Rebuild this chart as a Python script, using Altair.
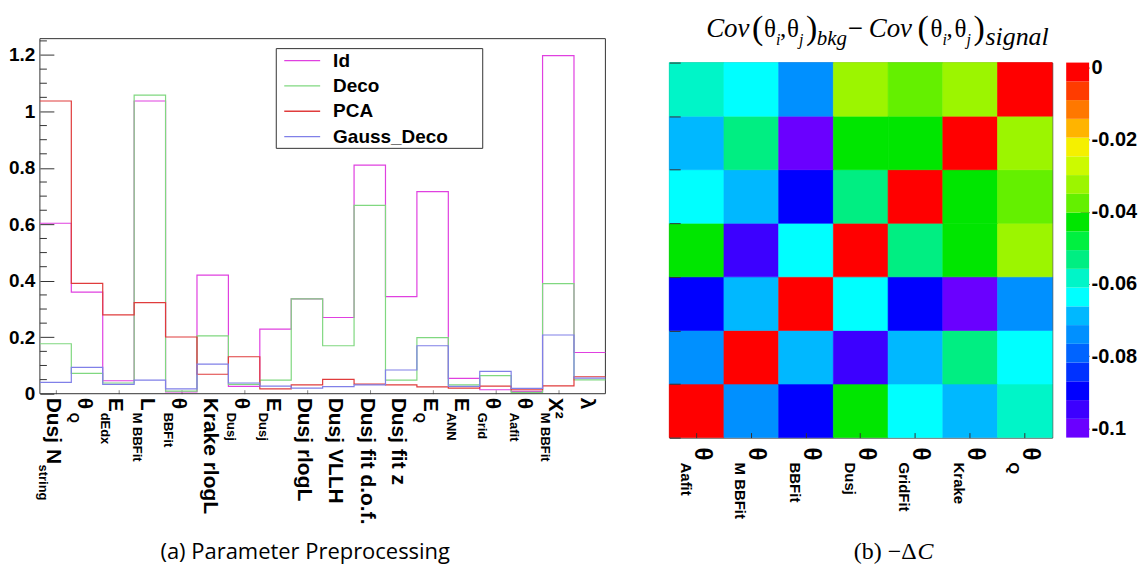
import altair as alt
import pandas as pd
import numpy as np

# ---------------- panel (a): parameter preprocessing ----------------
hist_main = ["Dusj N", "θ", "E", "L", "θ", "Krake rlogL", "θ", "E", "Dusj rlogL",
             "Dusj VLLH", "Dusj fit d.o.f.", "Dusj fit z", "E", "E", "θ", "θ", "X²", "λ"]
hist_sub = ["string", "Q", "dEdx", "M BBFit", "BBFit", "", "Dusj", "Dusj", "",
            "", "", "", "Q", "ANN", "Grid", "Aafit", "M BBFit", ""]

series_names = ["Id", "Deco", "PCA", "Gauss_Deco"]
series_colors = ["#E040E0", "#80D880", "#E03C3C", "#8080E8"]

id_vals = [0.604, 0.360, 0.046, 1.037, 0.006, 0.420, 0.026, 0.229, 0.336,
           0.270, 0.810, 0.344, 0.716, 0.054, 0.014, 0.008, 1.198, 0.146]
deco_vals = [0.177, 0.072, 0.038, 1.058, 0.009, 0.205, 0.033, 0.048, 0.336,
             0.170, 0.667, 0.048, 0.199, 0.031, 0.064, 0.005, 0.390, 0.049]
pca_vals = [1.037, 0.391, 0.279, 0.323, 0.201, 0.069, 0.131, 0.017, 0.031,
            0.051, 0.034, 0.031, 0.024, 0.020, 0.027, 0.014, 0.028, 0.060]
gauss_vals = [0.040, 0.093, 0.033, 0.048, 0.017, 0.105, 0.038, 0.027, 0.020,
              0.025, 0.031, 0.084, 0.170, 0.026, 0.079, 0.019, 0.208, 0.055]

# ---------------- panel (b): covariance difference ----------------
cov_vars = ["Aafit", "M BBFit", "BBFit", "Dusj", "GridFit", "Krake", "Q"]
cov_rows = [
    [0.000, -0.074, -0.090, -0.043, -0.064, -0.069, -0.058],
    [-0.074, 0.000, -0.069, -0.095, -0.069, -0.053, -0.064],
    [-0.090, -0.069, 0.000, -0.064, -0.090, -0.099, -0.074],
    [-0.043, -0.095, -0.064, 0.000, -0.053, -0.043, -0.032],
    [-0.064, -0.069, -0.090, -0.053, 0.000, -0.043, -0.038],
    [-0.069, -0.053, -0.099, -0.043, -0.043, 0.000, -0.032],
    [-0.058, -0.064, -0.074, -0.032, -0.038, -0.032, 0.000],
]
ZMIN, ZMAX = -0.1026, 0.0014
cbar_ticks = [0, -0.02, -0.04, -0.06, -0.08, -0.1]
# 20-level rainbow palette, low -> high
palette = ["#6A00FF", "#3C00FF", "#0000FF", "#0032FF", "#0064FF", "#0090FF",
           "#00B8FF", "#00FFFF", "#00F5C8", "#00EE82", "#00F040", "#00E600",
           "#64F000", "#9CF500", "#CCFA00", "#F5F000", "#FFB400", "#FF7800",
           "#FF3C00", "#FF0000"]

SANS = "Liberation Sans"
SERIF = "Liberation Serif"
FRAME = "#333333"

dummy = pd.DataFrame({"d": [0]})


def spacer(x, y):
    return alt.Chart(dummy).mark_rule(color="white", strokeWidth=1).encode(
        x=alt.value(x), x2=alt.value(x + 1), y=alt.value(y))


def piece(txt, x, y, size, style="normal", font=SERIF, align="left", weight="normal"):
    return alt.Chart(dummy).mark_text(
        align=align, baseline="alphabetic", font=font, fontSize=size,
        fontStyle=style, fontWeight=weight, color="black"
    ).encode(x=alt.value(x), y=alt.value(y), text=alt.value(txt))


# ---------------- build panel (a) ----------------
# The panel's frame starts UP pixels above the shared row origin of the two panels.
WA, HA, UP = 567, 332, 24
NB = len(hist_main)
rows = []
for name, vals in zip(series_names, [id_vals, deco_vals, pca_vals, gauss_vals]):
    for k, v in enumerate(vals):
        rows.append({"series": name, "edge": k, "value": v})
    rows.append({"series": name, "edge": len(vals), "value": vals[-1]})
hist_df = pd.DataFrame(rows)

xs = alt.Scale(domain=[0, NB], nice=False, zero=False)
ys = alt.Scale(domain=[0, 1.258], range=[HA, -UP], nice=False, zero=False)

frame_a = alt.Chart(dummy).mark_rect(fill="transparent", stroke=FRAME, strokeWidth=1).encode(
    x=alt.value(0), x2=alt.value(WA), y=alt.value(-UP), y2=alt.value(HA))

lines = alt.Chart(hist_df).mark_line(interpolate="step-after", strokeWidth=1.2).encode(
    x=alt.X("edge:Q", scale=xs,
            axis=alt.Axis(values=[k + 0.5 for k in range(NB)], labels=False, domain=False,
                          grid=False, tickSize=4, offset=-4, tickColor="#888", title=None)),
    y=alt.Y("value:Q", scale=ys,
            axis=alt.Axis(values=[0, 0.2, 0.4, 0.6, 0.8, 1.0, 1.2],
                          labelExpr="datum.value == 0 ? '0' : format(datum.value, '.1~f')",
                          labelFont=SANS, labelFontWeight="bold", labelFontSize=19,
                          labelColor="black", labelPadding=5, domain=False, grid=False,
                          tickSize=14, offset=-14, tickColor=FRAME, title=None)),
    color=alt.Color("series:N", scale=alt.Scale(domain=series_names, range=series_colors),
                    legend=None),
)

minor_vals = [round(v, 2) for v in np.arange(0.05, 1.26, 0.05)
              if abs(v / 0.2 - round(v / 0.2)) > 1e-6]
minor = alt.Chart(pd.DataFrame({"t": minor_vals})).mark_rule(color=FRAME, strokeWidth=1).encode(
    y=alt.Y("t:Q", scale=ys), x=alt.value(0), x2=alt.value(7))

lab_df = pd.DataFrame({"c": [k + 0.5 for k in range(NB)], "main": hist_main, "sub": hist_sub})
main_txt = alt.Chart(lab_df).mark_text(
    angle=90, align="left", baseline="middle", font=SANS, fontWeight="bold",
    fontSize=21, dy=3, color="black"
).encode(x=alt.X("c:Q", scale=xs), y=alt.value(HA + 4), text="main:N")

sub_short = alt.Chart(lab_df).transform_filter(
    "datum.sub != '' && length(datum.main) <= 2"
).mark_text(
    angle=90, align="left", baseline="middle", font=SANS, fontWeight="bold",
    fontSize=13, dx=15, dy=13, color="black"
).encode(x=alt.X("c:Q", scale=xs), y=alt.value(HA + 4), text="sub:N")

sub_long = alt.Chart(lab_df).transform_filter(
    "datum.sub != '' && length(datum.main) > 2"
).mark_text(
    angle=90, align="left", baseline="middle", font=SANS, fontWeight="bold",
    fontSize=13, dx=67, dy=13, color="black"
).encode(x=alt.X("c:Q", scale=xs), y=alt.value(HA + 4), text="sub:N")

LY = 10 - UP
legend_parts = [
    alt.Chart(dummy).mark_rect(fill="white", stroke=FRAME, strokeWidth=1).encode(
        x=alt.value(237), x2=alt.value(444), y=alt.value(LY), y2=alt.value(LY + 100))
]
for i, (n, c) in enumerate(zip(series_names, series_colors)):
    yy = LY + 12 + i * 25.4
    legend_parts.append(alt.Chart(dummy).mark_rule(color=c, strokeWidth=1.3).encode(
        x=alt.value(245), x2=alt.value(281), y=alt.value(yy)))
    legend_parts.append(alt.Chart(dummy).mark_text(
        align="left", baseline="middle", font=SANS, fontWeight="bold", fontSize=19,
        color="black").encode(x=alt.value(294), y=alt.value(yy), text=alt.value(n)))

title_a = alt.Chart(dummy).mark_text(
    align="center", baseline="middle", font="Open Sans", fontSize=22, color="black"
).encode(x=alt.value(266), y=alt.value(515 - UP),
         text=alt.value("(a) Parameter Preprocessing"))

hist = alt.layer(frame_a, lines, minor, main_txt, sub_short, sub_long, *legend_parts,
                 title_a, spacer(-39, 0)).properties(
    width=WA, height=HA, view=alt.ViewBackground(stroke="transparent"))

# ---------------- build panel (b) ----------------
WB, HB = 384, 376
heat_df = pd.DataFrame([{"row": cov_vars[i], "col": cov_vars[j], "v": cov_rows[i][j]}
                        for i in range(len(cov_vars)) for j in range(len(cov_vars))])
hx = alt.Scale(domain=cov_vars, paddingInner=0, paddingOuter=0)
hy = alt.Scale(domain=cov_vars[::-1], paddingInner=0, paddingOuter=0)
qscale = alt.Scale(type="quantize", domain=[ZMIN, ZMAX], range=palette)

cells = alt.Chart(heat_df).mark_rect(strokeWidth=0.6).encode(
    x=alt.X("col:N", scale=hx,
            axis=alt.Axis(labels=False, title=None, domain=False, tickSize=5, offset=-5,
                          tickColor=FRAME)),
    y=alt.Y("row:N", scale=hy,
            axis=alt.Axis(labels=False, title=None, domain=False, tickSize=11, offset=-11,
                          tickBand="extent", tickColor=FRAME)),
    color=alt.Color("v:Q", scale=qscale, legend=None),
    stroke=alt.Stroke("v:Q", scale=qscale, legend=None),
)

hlab_df = pd.DataFrame({"col": cov_vars, "sub": cov_vars})
heat_main = alt.Chart(hlab_df).mark_text(
    angle=90, align="left", baseline="middle", font=SANS, fontWeight="bold",
    fontSize=24, dy=-5, color="black"
).encode(x=alt.X("col:N", scale=hx), y=alt.value(HB + 10), text=alt.value("θ"))
heat_sub = alt.Chart(hlab_df).mark_text(
    angle=90, align="left", baseline="middle", font=SANS, fontWeight="bold",
    fontSize=15, dx=15, dy=11, color="black"
).encode(x=alt.X("col:N", scale=hx), y=alt.value(HB + 10), text="sub:N")

TB = -26  # title baseline (relative to plot top)
TS = -18  # subscript baseline
title_b = [
    piece("Cov", 37, TB, 27, "italic"),
    piece("(", 83, TB + 2, 34),
    piece("θ", 95, TB, 25),
    piece("i", 107, TS, 16, "italic"),
    piece(",", 111, TB, 25),
    piece("θ", 118, TB, 25),
    piece("j", 130, TS, 16, "italic"),
    piece(")", 137, TB + 2, 34),
    piece("bkg", 148, TS, 21, "italic"),
    piece("−", 179, TB, 27),
    piece("Cov", 200, TB, 27, "italic"),
    piece("(", 249, TB + 2, 34),
    piece("θ", 262, TB, 25),
    piece("i", 274, TS, 16, "italic"),
    piece(",", 278, TB, 25),
    piece("θ", 286, TB, 25),
    piece("j", 298, TS, 16, "italic"),
    piece(")", 305, TB + 2, 34),
    piece("signal", 317, TS, 26, "italic"),
    piece("(b) −Δ", 248, 498, 24, align="right"),
    piece("C", 249, 498, 24, "italic"),
]

heat = alt.layer(cells, heat_main, heat_sub, *title_b, spacer(0, -61)).properties(
    width=WB, height=HB)

# colour bar
wband = (ZMAX - ZMIN) / len(palette)
cbar_df = pd.DataFrame([{"lo": ZMIN + i * wband, "hi": ZMIN + (i + 1) * wband, "c": palette[i]}
                        for i in range(len(palette))])
cbar = alt.layer(
    alt.Chart(cbar_df).mark_rect().encode(
        x=alt.value(0), x2=alt.value(23),
        y=alt.Y("lo:Q", scale=alt.Scale(domain=[ZMIN, ZMAX], nice=False, zero=False),
                axis=alt.Axis(orient="right", values=cbar_ticks,
                              labelExpr="datum.value == 0 ? '0' : '-' + format(-datum.value, '.2~f')",
                              labelFont=SANS, labelFontWeight="bold", labelFontSize=20,
                              labelColor="black", labelPadding=2, domain=False, grid=False,
                              tickSize=9, offset=-9, tickColor=FRAME, title=None)),
        y2="hi:Q",
        color=alt.Color("c:N", scale=None),
    ),
    spacer(0, -61),
).properties(width=23, height=HB, view=alt.ViewBackground(stroke="transparent"))

chart = alt.hconcat(
    hist,
    alt.hconcat(heat, cbar, spacing=12),
    spacing=60,
).properties(padding=0, background="white").configure_view(stroke=FRAME, strokeWidth=1)

chart.save("out.html", embed_options={"renderer": "svg", "actions": False})
